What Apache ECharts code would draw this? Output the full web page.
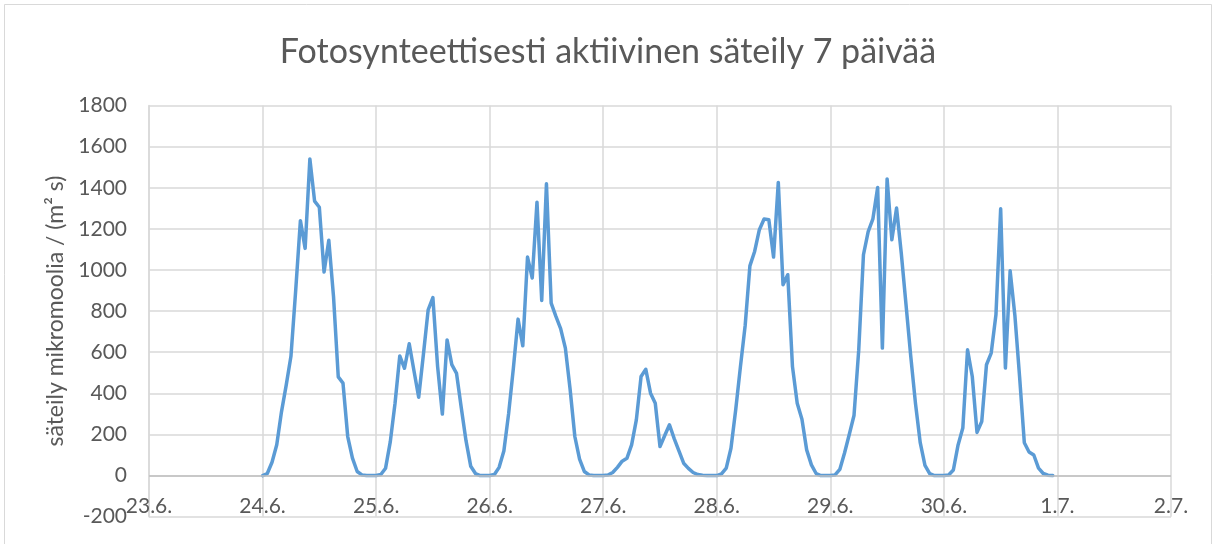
<!DOCTYPE html>
<html>
<head>
<meta charset="utf-8">
<script src="https://cdn.jsdelivr.net/npm/echarts@6/dist/echarts.min.js"></script>
<style>
html,body{margin:0;padding:0;background:#fff;}
#chart{width:1216px;height:544px;}
</style>
</head>
<body>
<div id="chart"></div>
<script>
// Tick labels of the x axis (days 23.6. .. 2.7.)
var xTickLabels = ['23.6.', '24.6.', '25.6.', '26.6.', '27.6.', '28.6.', '29.6.', '30.6.', '1.7.', '2.7.'];
// Day index (days after 23.6.) of the first measured day
var firstDay = 1;
// Hourly values (00:00 .. 23:00) for each measured day
var day24_6 = [0, 10, 65, 150, 310, 440, 580, 900, 1240, 1105, 1540, 1335, 1305, 990, 1145, 870, 480, 450, 190, 85, 20, 3, 0, 0];
var day25_6 = [0, 5, 36, 165, 352, 582, 522, 641, 510, 381, 590, 806, 866, 530, 299, 660, 540, 497, 330, 170, 45, 10, 0, 0];
var day26_6 = [0, 5, 40, 120, 300, 520, 761, 631, 1063, 961, 1330, 852, 1419, 839, 774, 715, 620, 420, 190, 80, 20, 3, 0, 0];
var day27_6 = [0, 3, 15, 40, 70, 84, 149, 271, 482, 517, 401, 352, 141, 195, 247, 180, 120, 60, 35, 15, 5, 2, 0, 0];
var day28_6 = [0, 8, 36, 133, 320, 530, 730, 1020, 1090, 1196, 1248, 1244, 1063, 1426, 928, 977, 530, 352, 274, 125, 52, 10, 0, 0];
var day29_6 = [0, 3, 30, 110, 200, 292, 610, 1074, 1187, 1249, 1401, 620, 1443, 1147, 1301, 1080, 830, 580, 350, 160, 50, 10, 0, 0];
var day30_6 = [0, 3, 27, 149, 231, 612, 482, 210, 263, 539, 596, 782, 1298, 523, 996, 780, 480, 160, 115, 100, 36, 10, 2, 0];
var yTicks = {min: -200, max: 1800, interval: 200};

var days = [day24_6, day25_6, day26_6, day27_6, day28_6, day29_6, day30_6];
var points = [];
days.forEach(function (vals, d) {
  vals.forEach(function (v, h) {
    points.push([firstDay + d + h / 24, v]);
  });
});

var chart = echarts.init(document.getElementById('chart'));
var font = 'Lato';
chart.setOption({
  backgroundColor: '#ffffff',
  animation: false,
  title: {
    text: 'Fotosynteettisesti aktiivinen säteily 7 päivää',
    left: 'center',
    top: 30,
    textStyle: {fontFamily: font, fontSize: 34, fontWeight: 'normal', color: '#595959'}
  },
  graphic: [{
    type: 'rect',
    shape: {x: 4.5, y: 4.5, width: 1207, height: 545},
    style: {fill: 'none', stroke: '#d9d9d9', lineWidth: 1},
    silent: true
  }],
  grid: {left: 149, right: 45, top: 105.5, bottom: 27.3, outerBoundsMode: 'none', containLabel: false},
  xAxis: {
    type: 'value',
    min: 0,
    max: xTickLabels.length - 1,
    interval: 1,
    axisLine: {show: false, onZero: false},
    axisTick: {show: false},
    splitLine: {show: true, lineStyle: {color: '#d9d9d9', width: 1.5}},
    axisLabel: {
      margin: -21,
      fontFamily: font, fontSize: 21, color: '#595959',
      formatter: function (v) { return xTickLabels[Math.round(v)]; }
    }
  },
  yAxis: {
    type: 'value',
    min: yTicks.min,
    max: yTicks.max,
    interval: yTicks.interval,
    name: 'säteily mikromoolia / (m² s)',
    nameLocation: 'middle',
    nameGap: 82,
    nameTextStyle: {fontFamily: font, fontSize: 23, color: '#595959'},
    axisLine: {show: true, lineStyle: {color: '#d9d9d9', width: 1.5}},
    axisTick: {show: false},
    splitLine: {show: true, lineStyle: {color: '#d9d9d9', width: 1.5}},
    axisLabel: {margin: 22, fontFamily: font, fontSize: 21, color: '#595959',
      formatter: function (v) { return String(v); }}
  },
  series: [{
    type: 'line',
    data: points,
    showSymbol: false,
    symbol: 'none',
    smooth: false,
    lineStyle: {color: '#5b9bd5', width: 3.5, join: 'round', cap: 'round'},
    markLine: {
      silent: true,
      symbol: 'none',
      label: {show: false},
      lineStyle: {color: '#bfbfbf', width: 1.5, type: 'solid'},
      data: [{yAxis: 0}]
    },
    z: 3
  }]
});
</script>
</body>
</html>
